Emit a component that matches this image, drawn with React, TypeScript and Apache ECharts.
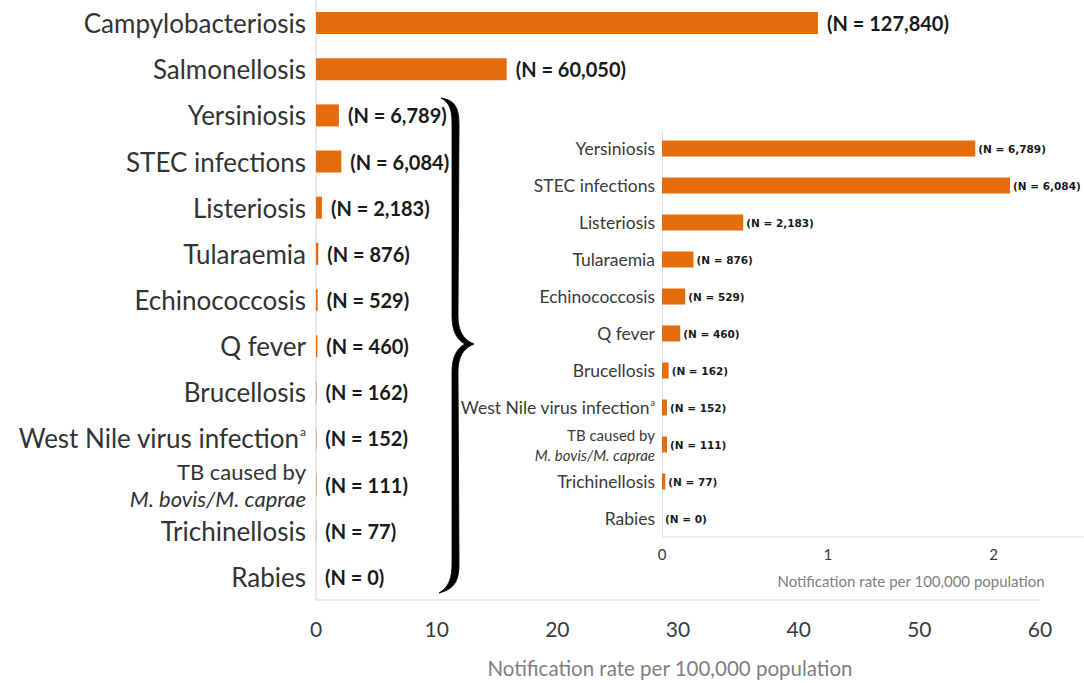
import React, { useEffect, useRef } from "react";
import * as echarts from "echarts";

const mainCategories = [
  "Campylobacteriosis",
  "Salmonellosis",
  "Yersiniosis",
  "STEC infections",
  "Listeriosis",
  "Tularaemia",
  "Echinococcosis",
  "Q fever",
  "Brucellosis",
  "West Nile virus infection",
  "TB caused by M. bovis/M. caprae",
  "Trichinellosis",
  "Rabies",
];
const mainRates = [41.6, 15.8, 1.9, 2.1, 0.49, 0.19, 0.14, 0.11, 0.04, 0.03, 0.03, 0.02, 0];
const mainCounts = ["127,840", "60,050", "6,789", "6,084", "2,183", "876", "529", "460", "162", "152", "111", "77", "0"];
const mainTicks = [0, 10, 20, 30, 40, 50, 60];

const insetCategories = mainCategories.slice(2);
const insetRates = [1.89, 2.1, 0.49, 0.19, 0.14, 0.11, 0.04, 0.03, 0.03, 0.02, 0];
const insetCounts = ["6,789", "6,084", "2,183", "876", "529", "460", "162", "152", "111", "77", "0"];

const axisTitle = "Notification rate per 100,000 population";
const ORANGE = "#E46C0A";
const FONT = "Lato, 'Noto Sans', sans-serif";
const WIDE = "'DejaVu Sans', 'Noto Sans', sans-serif";

const bracePath =
  "M 441 98 C 455 100 459 108 459 124 L 458 316 C 458 332 464 340 474 344 C 464 348 458 356 458 372 L 459 564 C 459 580 455 589 439 593 " +
  "C 449 587 452 578 452 564 L 452 372 C 452 357 457 348 465 344 C 457 340 452 331 452 316 L 452 124 C 452 110 450 103 441 98 Z";

function labelFormatter(name: string) {
  if (name === "West Nile virus infection") return "{t|West Nile virus infection}{s|a}";
  if (name.startsWith("TB caused by")) return "{b|TB caused by}\n{i|M. bovis/M. caprae}";
  return "{t|" + name + "}";
}

export default function App() {
  const ref = useRef<HTMLDivElement>(null);
  useEffect(() => {
    document.body.style.margin = "0";
    try {
      echarts.graphic.registerShape("brace", echarts.graphic.extendPath(bracePath, {}));
    } catch (e) {}
    const chart = echarts.init(ref.current!, null, { renderer: "svg" });
    const option: any = {
      animation: false,
      backgroundColor: "#ffffff",
      grid: [
        { left: 316, top: 0, width: 724, height: 603, containLabel: false },
        { left: 662, top: 130, width: 421, height: 407, containLabel: false },
      ],
      xAxis: [
        {
          type: "value",
          gridIndex: 0,
          min: mainTicks[0],
          max: mainTicks[mainTicks.length - 1],
          interval: 10,
          splitLine: { show: false },
          axisTick: { show: false },
          axisLine: { show: true, lineStyle: { color: "#e3e6ee", width: 1.5 } },
          axisLabel: { fontFamily: FONT, fontSize: 21, color: "#3a3a3a", margin: 18 },
          name: axisTitle,
          nameLocation: "middle",
          nameGap: 57,
          nameTextStyle: { fontFamily: FONT, fontSize: 20.5, color: "#7f7f7f", padding: [0, 16, 0, 0] },
        },
        {
          type: "value",
          gridIndex: 1,
          min: 0,
          max: 2.54,
          interval: 1,
          splitLine: { show: false },
          axisTick: { show: false },
          axisLine: { show: true, lineStyle: { color: "#e3e6ee", width: 1.5 } },
          axisLabel: {
            fontFamily: FONT,
            fontSize: 15,
            color: "#3a3a3a",
            margin: 9,
            showMaxLabel: false,
            formatter: (v: number) => (Number.isInteger(v) ? String(v) : ""),
          },
        },
      ],
      yAxis: [
        {
          type: "category",
          gridIndex: 0,
          data: mainCategories,
          inverse: true,
          axisTick: { show: false },
          axisLine: { show: true, lineStyle: { color: "#dbe3ee", width: 1.5 } },
          axisLabel: {
            margin: 10,
            formatter: labelFormatter,
            rich: {
              t: { fontFamily: FONT, fontSize: 26, color: "#333333", lineHeight: 26 },
              b: { fontFamily: FONT, fontSize: 22, color: "#333333", lineHeight: 27 },
              i: { fontFamily: FONT, fontSize: 22, color: "#333333", fontStyle: "italic", lineHeight: 27 },
              s: { fontFamily: FONT, fontSize: 12, color: "#333333", verticalAlign: "top", padding: [0, 0, 12, 1] },
            },
          },
        },
        {
          type: "category",
          gridIndex: 1,
          data: insetCategories,
          inverse: true,
          axisTick: { show: false },
          axisLine: { show: true, lineStyle: { color: "#dbe3ee", width: 1 } },
          axisLabel: {
            margin: 7,
            formatter: labelFormatter,
            rich: {
              t: { fontFamily: FONT, fontSize: 17.5, color: "#3a3a3a", lineHeight: 20 },
              b: { fontFamily: FONT, fontSize: 15, color: "#3a3a3a", lineHeight: 20 },
              i: { fontFamily: FONT, fontSize: 15, color: "#3a3a3a", fontStyle: "italic", lineHeight: 20 },
              s: { fontFamily: FONT, fontSize: 9, color: "#3a3a3a", verticalAlign: "top", padding: [0, 0, 8, 1] },
            },
          },
        },
      ],
      series: [
        {
          type: "bar",
          xAxisIndex: 0,
          yAxisIndex: 0,
          data: mainRates,
          barWidth: 22,
          itemStyle: { color: ORANGE },
          label: {
            show: true,
            position: "right",
            distance: 9,
            formatter: (p: any) => "(N = " + mainCounts[p.dataIndex] + ")",
            fontFamily: FONT,
            fontSize: 20,
            fontWeight: "bold",
            color: "#1a1a1a",
          },
        },
        {
          type: "bar",
          xAxisIndex: 1,
          yAxisIndex: 1,
          data: insetRates,
          barWidth: 16,
          itemStyle: { color: ORANGE },
          label: {
            show: true,
            position: "right",
            distance: 3,
            formatter: (p: any) => "(N = " + insetCounts[p.dataIndex] + ")",
            fontFamily: WIDE,
            fontSize: 10.5,
            fontWeight: "bold",
            color: "#1a1a1a",
          },
        },
      ],
      graphic: [
        {
          type: "brace",
          x: 0,
          y: 0,
          style: { fill: "#000000", stroke: "#000000", lineWidth: 0.8 },
        },
        {
          type: "text",
          x: 911,
          y: 581,
          style: {
            text: axisTitle,
            fontFamily: FONT,
            fontSize: 15,
            fill: "#808080",
            textAlign: "center",
            textVerticalAlign: "middle",
          },
        },
      ],
    };
    chart.setOption(option);
    return () => chart.dispose();
  }, []);
  return <div ref={ref} style={{ width: 1084, height: 683 }} />;
}
